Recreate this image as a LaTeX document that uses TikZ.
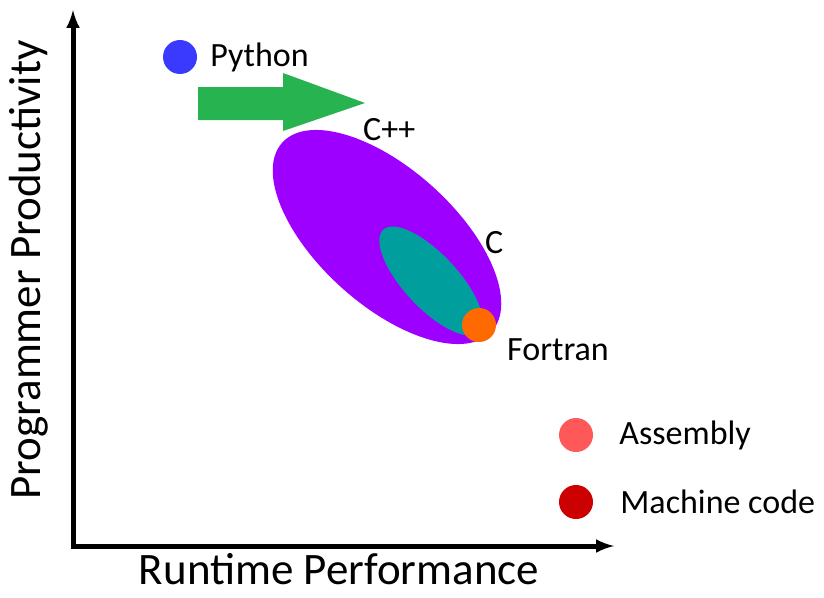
\documentclass[tikz,border=0pt]{standalone}
\usepackage{fontspec}
\setmainfont{Carlito}
\usetikzlibrary{positioning}

\definecolor{pyblue}{HTML}{3A3AFF}
\definecolor{arrowgreen}{HTML}{27B34F}
\definecolor{cppviolet}{HTML}{9E00FF}
\definecolor{cteal}{HTML}{009E9C}
\definecolor{fortorange}{HTML}{FF6A00}
\definecolor{asmred}{HTML}{FF5858}
\definecolor{machred}{HTML}{CC0000}

\begin{document}
\begin{tikzpicture}[x = 1pt, y = -1pt, > = latex,
	dot/.style = {circle, inner sep = 0pt, minimum size = 34pt},
	lang/.style = {font = \fontsize{34}{40}\selectfont, inner sep = 0pt, anchor = west},
	axislabel/.style = {font = \fontsize{45}{50}\selectfont, inner sep = 0pt}]

	\useasboundingbox (0, 0) rectangle (824, 597);

	% Axes

	\coordinate (origin) at (73, 546);
	\coordinate (ytop) at (73, 10);
	\coordinate (xend) at (614, 546);

	\draw [line width = 5pt, ->] (origin) -- (ytop);
	\draw [line width = 5pt, ->] ([xshift = -2.5pt] origin) -- (xend);

	\node [axislabel, rotate = 90] (ylab) at (29, 270) {Programmer Productivity};
	\node [axislabel, anchor = base] (xlab) at (339, 584) {Runtime Performance};

	% Language regions

	\fill [cppviolet, rotate around = {-42 : (387, 237)}] (387, 237) ellipse (141 and 68);
	\fill [cteal, rotate around = {-47 : (431, 281)}] (431, 281) ellipse (70 and 27);

	% Green arrow

	\fill [arrowgreen] (198, 87) -- (283, 87) -- (283, 73) -- (365, 103)
		-- (283, 131) -- (283, 120) -- (198, 120) -- cycle;

	% Languages

	\node [dot, fill = pyblue] (python) at (180, 57) {};
	\node [lang, right = 13pt of python] (pythonlab) {Python};

	\node [lang] (cpp) at (363, 130) {C++};
	\node [lang] (clab) at (485, 243) {C};

	\node [dot, fill = fortorange] (fortran) at (479, 325) {};
	\node [lang] (fortranlab) at (507, 350) {Fortran};

	\node [dot, fill = asmred] (asm) at (576, 435) {};
	\node [lang, right = 26pt of asm] (asmlab) {Assembly};

	\node [dot, fill = machred] (mach) at (576, 502) {};
	\node [lang, right = 27pt of mach] (machlab) {Machine code};

\end{tikzpicture}
\end{document}
